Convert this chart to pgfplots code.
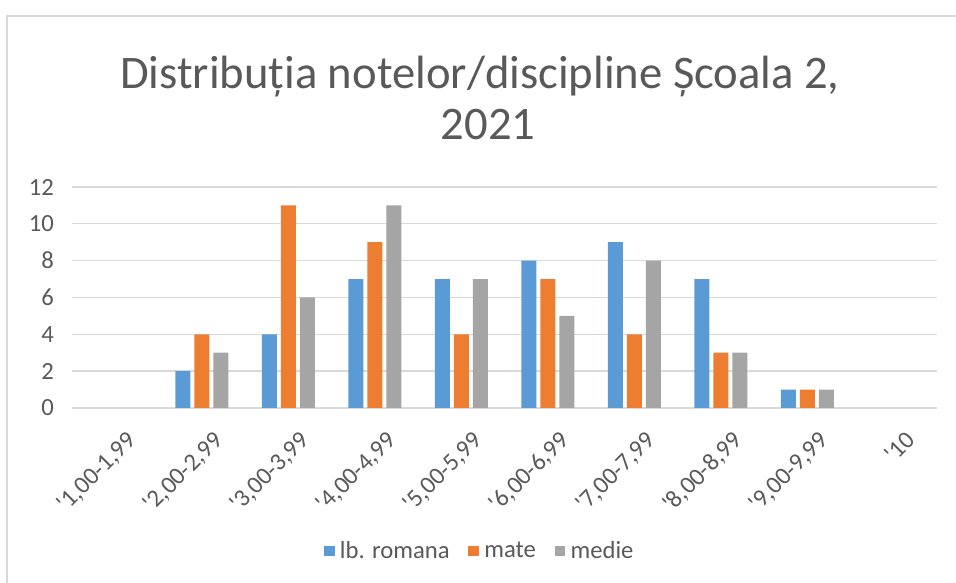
\documentclass[border=0pt]{standalone}
\usepackage{fontspec}
\setmainfont{Carlito}
\usepackage{pgfplots}
\pgfplotsset{compat=1.18}
\definecolor{cblue}{HTML}{5B9BD5}
\definecolor{corange}{HTML}{ED7D31}
\definecolor{cgray}{HTML}{A5A5A5}
\definecolor{tgray}{HTML}{595959}
\definecolor{lgray}{HTML}{D9D9D9}
\begin{document}
\begin{tikzpicture}
\useasboundingbox (0,0) rectangle (717bp,437.25bp);
\draw[color=lgray, line width=1.5bp] (5.25bp,0) -- (5.25bp,425.25bp) -- (717bp,425.25bp);
\node[text=tgray, font=\fontsize{35bp}{40bp}\selectfont, anchor=base] at (360bp,370.5bp) {Distribuția notelor/discipline Școala 2,};
\node[text=tgray, font=\fontsize{35bp}{40bp}\selectfont, anchor=base] at (366bp,332.25bp) {2021};
\begin{axis}[
  at={(54bp,131.25bp)}, anchor=south west,
  scale only axis, width=648.75bp, height=165.75bp,
  xmin=-0.5, xmax=9.5, ymin=0, ymax=12,
  ytick={0,2,...,12},
  xtick={0,...,9},
  xticklabels={{\textquotesingle1,00-1,99},{\textquotesingle2,00-2,99},{\textquotesingle3,00-3,99},{\textquotesingle4,00-4,99},{\textquotesingle5,00-5,99},{\textquotesingle6,00-6,99},{\textquotesingle7,00-7,99},{\textquotesingle8,00-8,99},{\textquotesingle9,00-9,99},{\textquotesingle10}},
  ymajorgrids, grid style={lgray, line width=1bp},
  axis x line*=bottom, axis y line*=left,
  x axis line style={lgray, line width=1bp, -},
  y axis line style={draw=none},
  major tick length=0pt,
  /pgf/number format/assume math mode=true,
  tick label style={text=tgray, font=\fontsize{18.5bp}{22bp}\selectfont},
  yticklabel style={xshift=-10bp},
  xticklabel style={rotate=45, anchor=north east, xshift=-6bp, yshift=-17bp, inner sep=0pt},
  ybar=3bp, bar width=11.25bp,
  legend style={at={(0.4717,-0.647)}, anchor=center, draw=none, legend columns=3,
    font=\fontsize{18.5bp}{22bp}\selectfont, text=tgray,
    /tikz/every even column/.append style={column sep=12bp},
    /tikz/every odd column/.append style={column sep=2bp}},
  legend image code/.code={\fill[#1] (0bp,-4bp) rectangle (8bp,4bp);},
]
\addplot[fill=cblue, draw=none] coordinates {(1,2) (2,4) (3,7) (4,7) (5,8) (6,9) (7,7) (8,1)};
\addplot[fill=corange, draw=none] coordinates {(1,4) (2,11) (3,9) (4,4) (5,7) (6,4) (7,3) (8,1)};
\addplot[fill=cgray, draw=none] coordinates {(1,3) (2,6) (3,11) (4,7) (5,5) (6,8) (7,3) (8,1)};
\legend{lb. romana, mate, medie}
\end{axis}
\end{tikzpicture}
\end{document}
